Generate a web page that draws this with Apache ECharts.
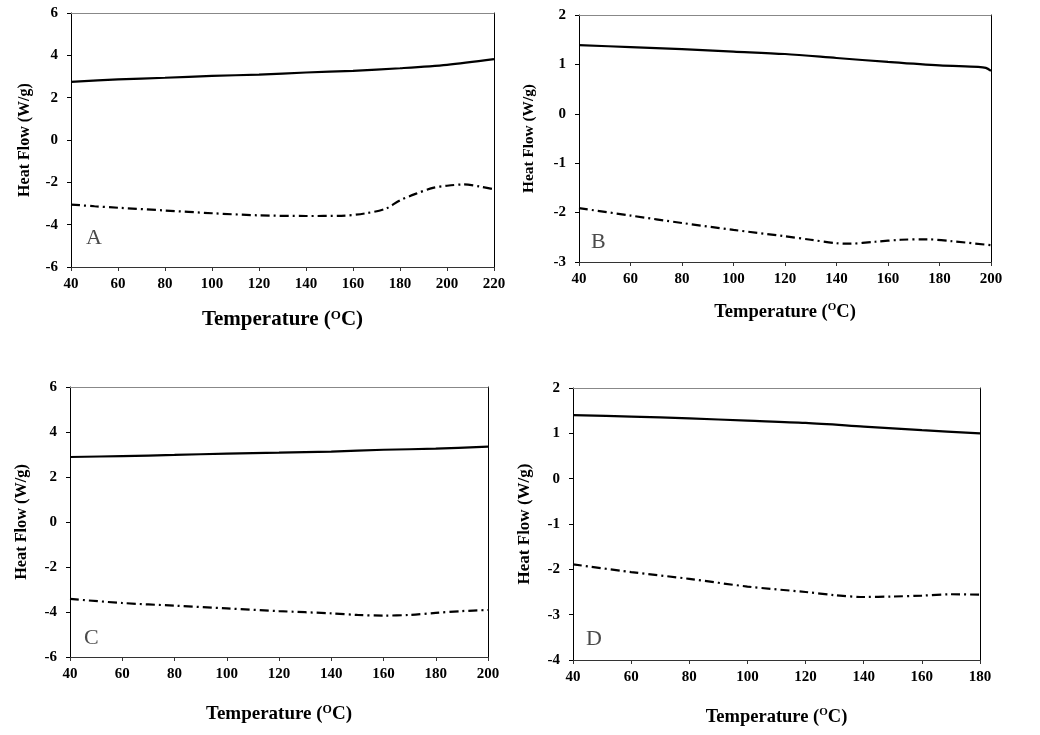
<!DOCTYPE html>
<html>
<head>
<meta charset="utf-8">
<script src="https://cdn.jsdelivr.net/npm/echarts@6/dist/echarts.min.js"></script>
<style>
html,body{margin:0;padding:0;background:#fff;}
#c{width:1040px;height:735px;}
</style>
</head>
<body>
<div id="c"></div>
<script>
// Panel A
const aSolidX = [40,60,80,100,120,140,160,180,200,220];
const aSolidY = [2.75,2.86,2.94,3.03,3.09,3.19,3.27,3.39,3.55,3.82];
const aDashX = [40,50,60,80,100,120,140,155,165,174,180,187,194,200,207,214,220];
const aDashY = [-3.05,-3.13,-3.2,-3.33,-3.46,-3.56,-3.59,-3.58,-3.47,-3.24,-2.85,-2.53,-2.26,-2.16,-2.1,-2.2,-2.33];
// Panel B
const bSolidX = [40,60,80,100,120,140,160,180,195,198,200];
const bSolidY = [1.39,1.35,1.31,1.26,1.21,1.13,1.05,0.98,0.95,0.93,0.87];
const bDashX = [40,60,80,100,120,130,140,145,155,165,175,185,200];
const bDashY = [-1.91,-2.06,-2.21,-2.35,-2.48,-2.55,-2.62,-2.63,-2.59,-2.55,-2.54,-2.58,-2.66];
// Panel C
const cSolidX = [40,60,80,100,120,140,160,180,200];
const cSolidY = [2.89,2.93,2.98,3.04,3.08,3.13,3.21,3.26,3.35];
const cDashX = [40,60,80,100,120,140,150,160,170,180,190,200];
const cDashY = [-3.42,-3.6,-3.72,-3.84,-3.96,-4.06,-4.13,-4.16,-4.13,-4.04,-3.96,-3.91];
// Panel D
const dSolidX = [40,60,80,100,120,140,160,180];
const dSolidY = [1.40,1.37,1.33,1.28,1.23,1.15,1.07,1.0];
const dDashX = [40,60,80,100,120,130,140,150,160,170,180];
const dDashY = [-1.89,-2.06,-2.21,-2.38,-2.5,-2.57,-2.61,-2.6,-2.58,-2.55,-2.56];

const panelLetters = ['A','B','C','D'];
const xRanges = [[40,220],[40,200],[40,200],[40,180]];
const yRanges = [[-6,6,2],[-3,2,1],[-6,6,2],[-4,2,1]];
const yTitle = 'Heat Flow (W/g)';

const FONT = '"Liberation Serif","Times New Roman",serif';
const zip = (xs, ys) => xs.map((x, i) => [x, ys[i]]);
const solids = [zip(aSolidX,aSolidY), zip(bSolidX,bSolidY), zip(cSolidX,cSolidY), zip(dSolidX,dSolidY)];
const dashes = [zip(aDashX,aDashY), zip(bDashX,bDashY), zip(cDashX,cDashY), zip(dDashX,dDashY)];

const grids = [
  {left:71, top:13, width:423, height:254},
  {left:579, top:15, width:412, height:247},
  {left:70, top:387, width:418, height:270},
  {left:573, top:388, width:407, height:272}
];
const xNameGap = [42, 40, 47, 47];
const xNameSize = [21, 18.5, 19, 18.5];
const yNameGap = [38, 42, 40, 40];
const yNameSize = [16, 15.3, 16.3, 17];

const xAxes = [], yAxes = [], series = [], titles = [];
grids.forEach((g, i) => {
  xAxes.push({
    gridIndex: i, type: 'value', min: xRanges[i][0], max: xRanges[i][1], interval: 20,
    position: 'bottom',
    name: 'Temperature ({sup|O}C)', nameLocation: 'middle', nameGap: xNameGap[i],
    nameTextStyle: {fontFamily: FONT, fontWeight: 'bold', fontSize: xNameSize[i], color: '#000',
      rich: {sup: {fontFamily: FONT, fontWeight: 'bold', fontSize: Math.round(xNameSize[i]*0.62), color: '#000', verticalAlign: 'top', padding: [0,0,9,0]}}},
    axisLine: {show: true, onZero: false, lineStyle: {color: '#333', width: 1}},
    axisTick: {show: true, length: 4, lineStyle: {color: '#333'}},
    axisLabel: {fontFamily: FONT, fontWeight: 'bold', fontSize: 15, color: '#000', margin: 10},
    splitLine: {show: false}
  });
  xAxes.push({
    gridIndex: i, type: 'value', min: xRanges[i][0], max: xRanges[i][1], position: 'top',
    axisLine: {show: true, onZero: false, lineStyle: {color: '#888', width: 1}},
    axisTick: {show: false}, axisLabel: {show: false}, splitLine: {show: false}
  });
  yAxes.push({
    gridIndex: i, type: 'value', min: yRanges[i][0], max: yRanges[i][1], interval: yRanges[i][2],
    position: 'left',
    name: yTitle, nameLocation: 'middle', nameGap: yNameGap[i], nameRotate: 90,
    nameTextStyle: {fontFamily: FONT, fontWeight: 'bold', fontSize: yNameSize[i], color: '#000'},
    axisLine: {show: true, onZero: false, lineStyle: {color: '#000', width: 1}},
    axisTick: {show: true, length: 4, lineStyle: {color: '#000'}},
    axisLabel: {fontFamily: FONT, fontWeight: 'bold', fontSize: 15, color: '#000', margin: 13},
    splitLine: {show: false}
  });
  yAxes.push({
    gridIndex: i, type: 'value', min: yRanges[i][0], max: yRanges[i][1], position: 'right',
    axisLine: {show: true, onZero: false, lineStyle: {color: '#000', width: 1}},
    axisTick: {show: false}, axisLabel: {show: false}, splitLine: {show: false}
  });
  series.push({
    type: 'line', xAxisIndex: 2*i, yAxisIndex: 2*i, data: solids[i], smooth: 0.3,
    symbol: 'none', lineStyle: {color: '#000', width: 2.2}, silent: true
  });
  series.push({
    type: 'line', xAxisIndex: 2*i, yAxisIndex: 2*i, data: dashes[i], smooth: 0.3,
    symbol: 'none', lineStyle: {color: '#000', width: 2.2, type: [9,4,2,4]}, silent: true
  });
});
const letterPos = [[81,222],[586,226],[79,622],[581,623]];
panelLetters.forEach((t, i) => {
  titles.push({text: t, left: letterPos[i][0], top: letterPos[i][1],
    textStyle: {fontFamily: FONT, fontWeight: 'normal', fontSize: 22, color: '#4a4a4a'}});
});

const chart = echarts.init(document.getElementById('c'), null, {renderer: 'canvas'});
chart.setOption({
  backgroundColor: '#fff',
  animation: false,
  title: titles,
  grid: grids,
  xAxis: xAxes,
  yAxis: yAxes,
  series: series
});
</script>
</body>
</html>
